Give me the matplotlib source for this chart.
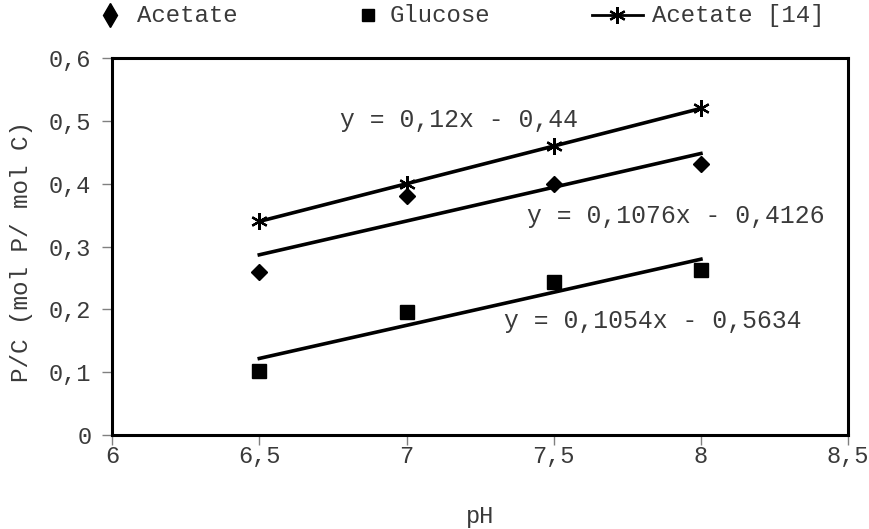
import numpy as np
import matplotlib.pyplot as plt
from matplotlib.lines import Line2D

plt.rcParams['font.family'] = ['Liberation Mono', 'DejaVu Sans Mono']

# datos
ph = [6.5, 7.0, 7.5, 8.0]
acetato = [0.26, 0.38, 0.40, 0.432]
glucosa = [0.101, 0.196, 0.243, 0.262]
acetato_14 = [0.34, 0.40, 0.46, 0.52]

# lineas de tendencia (pendiente, intercepto)
tend_acetato_14 = (0.12, -0.44)
tend_acetato = (0.1076, -0.4126)
tend_glucosa = (0.1054, -0.5634)

gris = '#3a3a3a'
fs = 17
fs_eq = 17.8

fig = plt.figure(figsize=(8.69, 5.29), dpi=100)
ax = fig.add_axes([0.129, 0.178, 0.847, 0.712])

x = np.array(ph)
for m, b in (tend_acetato_14, tend_acetato, tend_glucosa):
    ax.plot(x, m * x + b, color='black', lw=2.6, zorder=2)

ax.plot(ph, acetato, 'D', color='black', ms=8.5, zorder=3)
ax.plot(ph, glucosa, 's', color='black', ms=10.5, zorder=3)
ax.plot(ph, acetato_14, ls='none', marker=(6, 2, 0), color='black', ms=12, mew=1.6, zorder=3)

# leyenda arriba (fuera de los ejes)
ly = 0.971
fig.add_artist(Line2D([0.1266], [ly], marker='d', color='black', ms=12, ls='none'))
fig.text(0.1577, ly, 'Acetate', fontsize=17.3, color=gris, va='center')
fig.add_artist(Line2D([0.4235], [ly], marker='s', color='black', ms=9, ls='none'))
fig.text(0.4488, ly, 'Glucose', fontsize=17.3, color=gris, va='center')
fig.add_artist(Line2D([0.681, 0.740], [ly, ly], color='black', lw=2))
fig.add_artist(Line2D([0.710], [ly], marker=(6, 2, 0), color='black', ms=12, mew=1.6))
fig.text(0.750, ly, 'Acetate [14]', fontsize=17.3, color=gris, va='center')

ax.text(6.775, 0.49, 'y = 0,12x - 0,44', fontsize=fs_eq, color=gris)
ax.text(7.41, 0.338, 'y = 0,1076x - 0,4126', fontsize=fs_eq, color=gris)
ax.text(7.33, 0.170, 'y = 0,1054x - 0,5634', fontsize=fs_eq, color=gris)

ax.set_xlim(6, 8.5)
ax.set_ylim(0, 0.6)
ax.set_xticks([6, 6.5, 7, 7.5, 8, 8.5])
ax.set_xticklabels(['6', '6,5', '7', '7,5', '8', '8,5'])
ax.set_yticks([0, 0.1, 0.2, 0.3, 0.4, 0.5, 0.6])
ax.set_yticklabels(['0', '0,1', '0,2', '0,3', '0,4', '0,5', '0,6'])
ax.tick_params(labelsize=fs, labelcolor=gris, color='#808080', length=7, width=1)
ax.tick_params(axis='y', pad=8)
ax.tick_params(axis='x', pad=0)
ax.set_xlabel('pH', fontsize=fs, color=gris, labelpad=27)
ax.set_ylabel('P/C (mol P/ mol C)', fontsize=17.5, color=gris)
ax.yaxis.set_label_coords(-0.108, 0.487)
for s in ax.spines.values():
    s.set_linewidth(2.2)

fig.savefig('out.png', dpi=100)
